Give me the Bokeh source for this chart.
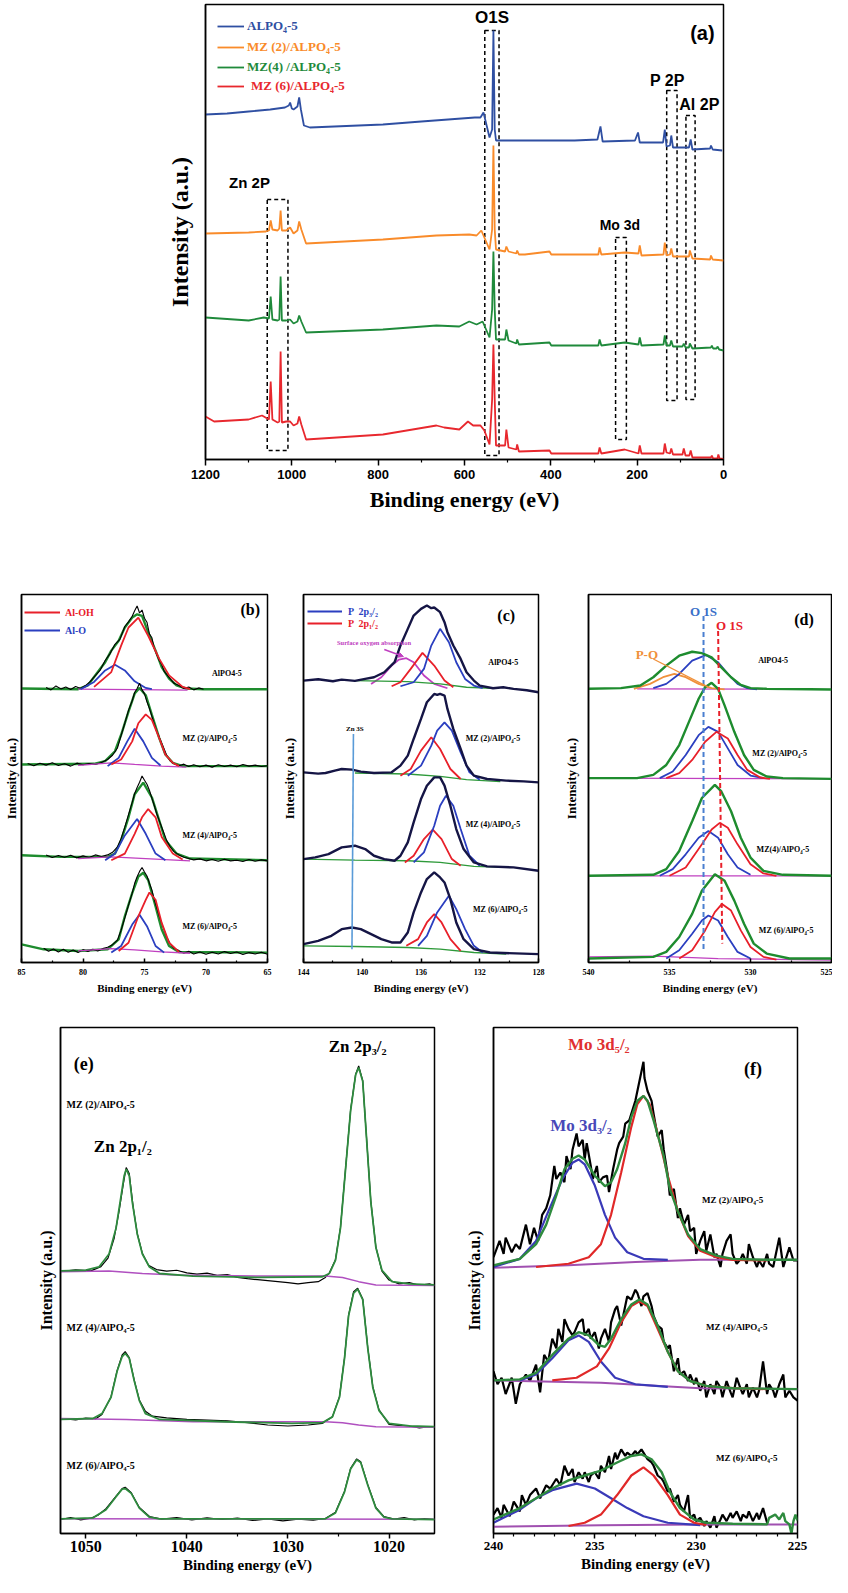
from bokeh.plotting import figure
from bokeh.layouts import column, row
from bokeh.models import Range1d, FixedTicker, Label, Legend, LegendItem, Arrow, NormalHead
from bokeh.core.properties import value
from bokeh.embed import file_html
from bokeh.resources import INLINE

SERIF = "Liberation Serif"
SANS = "Liberation Sans"
AX_SERIF = '"Liberation Serif"'
AX_SANS = '"Liberation Sans"'

# ---------------- (a) survey spectra: (binding energy eV, intensity a.u.) ----------------
a_alpo = [(1200, 345), (1150, 346), (1100, 348), (1050, 350), (1016, 352), (1007, 354), (1004, 357), (1000, 351),
          (996, 350), (987, 353), (983, 362), (979, 350), (972, 334), (958, 332), (789, 335), (700, 338), (576, 342),
          (563, 342), (556, 347), (542, 322), (536, 330), (533, 429), (530, 330), (527, 319), (345, 319), (292, 320),
          (285, 333), (280, 318), (205, 319), (198, 327), (194, 317), (140, 317), (136, 330), (132, 313), (124, 314),
          (121, 324), (117, 312), (80, 312), (76, 320), (72, 310), (31, 311), (29, 314), (25, 310), (3, 309)]
a_mz2 = [(1200, 226), (1100, 227), (1060, 228), (1053, 229), (1049, 239), (1045, 230), (1033, 229), (1029, 231),
         (1026, 249), (1023, 229), (1013, 229), (1004, 232), (996, 226), (987, 229), (983, 238), (978, 230),
         (967, 216), (789, 220), (665, 224), (589, 225), (572, 224), (561, 229), (542, 210), (536, 230), (533, 314),
         (530, 230), (527, 210), (506, 208), (503, 213), (498, 208), (480, 206), (478, 209), (474, 205), (460, 205),
         (403, 208), (399, 205), (290, 205), (287, 212), (283, 205), (229, 207), (197, 206), (194, 214), (190, 204),
         (139, 205), (136, 217), (132, 204), (124, 205), (121, 211), (117, 203), (80, 203), (78, 209), (72, 201),
         (31, 200), (29, 204), (25, 200), (0, 199)]
a_mz4 = [(1200, 142), (1100, 139), (1065, 142), (1053, 141), (1049, 163), (1045, 140), (1033, 139), (1029, 140),
         (1026, 183), (1023, 139), (1013, 139), (1004, 140), (996, 136), (987, 138), (983, 144), (978, 138),
         (967, 127), (789, 130), (665, 134), (612, 133), (589, 138), (572, 135), (558, 138), (542, 122), (536, 150),
         (533, 208), (530, 150), (527, 120), (506, 120), (503, 130), (498, 119), (480, 116), (478, 120), (474, 115),
         (403, 117), (399, 114), (290, 114), (287, 120), (283, 114), (229, 117), (197, 115), (194, 122), (190, 114),
         (139, 115), (136, 124), (132, 114), (124, 114), (121, 119), (117, 113), (95, 113), (92, 116), (88, 112),
         (80, 112), (78, 116), (72, 111), (29, 112), (27, 114), (24, 111), (16, 111), (14, 113), (10, 110), (0, 109)]
a_mz6 = [(1200, 43), (1180, 38), (1100, 40), (1069, 44), (1053, 40), (1049, 78), (1045, 40), (1033, 37), (1029, 38),
         (1026, 108), (1023, 37), (1013, 38), (1004, 38), (996, 34), (987, 36), (983, 43), (978, 35), (967, 20),
         (789, 25), (665, 34), (647, 32), (612, 30), (592, 38), (580, 34), (572, 34), (563, 34), (554, 29), (542, 15),
         (536, 60), (533, 115), (530, 60), (527, 14), (506, 14), (503, 30), (498, 12), (480, 10), (478, 15), (474, 8),
         (403, 9), (399, 6), (290, 6), (287, 12), (283, 6), (229, 10), (197, 6), (194, 14), (190, 6), (139, 6),
         (136, 16), (132, 7), (124, 6), (121, 11), (117, 5), (95, 5), (92, 11), (88, 4), (79, 4), (76, 9), (72, 2),
         (29, 2), (27, 4), (24, 1), (14, 1), (12, 5), (9, 1), (0, 0.5)]
a_ticks = [1200, 1000, 800, 600, 400, 200, 0]
a_minor = [1100, 900, 700, 500, 300, 100]
a_box_names = ["O1S", "Zn 2P", "Mo 3d", "P 2P", "Al 2P"]
a_box_high_ev = [553, 1057, 250, 131.6, 87]
a_box_low_ev = [520, 1009, 225, 107.6, 65.8]
a_box_top = [429, 260, 222, 369, 344]
a_box_bottom = [4, 9, 20, 59, 60]

# ---------------- (b) Al 2p ----------------
b_alpo_data = [(83.0, 83.3), (82.6, 82.6), (82.2, 83.8), (81.8, 82.9), (81.4, 83.5), (81.0, 82.7), (80.6, 83.6),
               (80.2, 83.0), (79.8, 83.9), (79.4, 85.2), (79.0, 86.9), (78.6, 88.6), (78.2, 91.5), (77.8, 93.6),
               (77.4, 96.4), (77.0, 97.9), (76.6, 101.8), (76.3, 103.2), (76.0, 104.9), (75.8, 106.6), (75.6, 108.0),
               (75.4, 105.9), (75.2, 106.8), (75.0, 104.3), (74.8, 103.1), (74.6, 99.6), (74.4, 98.4), (74.2, 95.1),
               (74.0, 93.2), (73.8, 91.5), (73.6, 90.3), (73.4, 88.2), (73.0, 86.4), (72.6, 84.6), (72.2, 83.9),
               (71.8, 83.0), (71.4, 83.5), (71.0, 82.6), (70.6, 83.2), (70.2, 82.8)]
b_alpo_fit = [(85.0, 83.0), (80.4, 82.8), (79.6, 84.0), (79.1, 86.5), (78.2, 91.0), (77.7, 94.5), (77.1, 97.5),
              (76.6, 101.5), (76.0, 104.5), (75.6, 105.5), (75.2, 105.0), (74.7, 100.0), (74.1, 94.5), (73.6, 89.5),
              (73.0, 86.0), (72.4, 84.0), (71.6, 83.0), (70.2, 82.8), (65.0, 82.8)]
b_alpo_aloh = [(79.1, 83.5), (77.7, 88.0), (76.9, 96.0), (76.3, 101.5), (75.5, 104.5), (74.7, 99.0), (73.8, 92.0),
               (73.0, 87.0), (71.9, 83.5), (71.3, 82.8)]
b_alpo_alo = [(80.2, 82.8), (79.1, 85.0), (78.2, 88.5), (77.4, 90.2), (76.6, 88.5), (75.8, 85.2), (74.9, 83.2),
              (74.4, 82.8)]
b_alpo_base = [(80.4, 82.8), (75.8, 82.7), (71.5, 82.5)]

b_mz2_data = [(84.5, 60.3), (84.0, 59.6), (83.5, 60.4), (83.0, 59.8), (82.5, 60.5), (82.0, 59.7), (81.5, 60.2),
              (81.0, 59.5), (80.5, 60.4), (80.0, 59.9), (79.5, 60.3), (79.0, 60.0), (78.5, 60.6), (78.0, 61.5),
              (77.6, 62.8), (77.2, 65.0), (76.9, 68.8), (76.6, 72.5), (76.3, 76.4), (76.0, 79.3), (75.8, 81.8),
              (75.6, 83.0), (75.4, 84.6), (75.2, 82.6), (75.0, 81.4), (74.8, 79.0), (74.6, 77.0), (74.4, 74.6),
              (74.2, 72.2), (74.0, 70.0), (73.8, 68.3), (73.5, 65.5), (73.2, 62.8), (72.9, 61.0), (72.6, 60.2),
              (72.2, 59.6), (71.8, 60.1), (71.4, 59.4), (71.0, 59.9), (70.5, 59.3), (70.0, 59.8), (69.5, 59.2),
              (69.0, 59.9), (68.5, 59.4), (68.0, 59.8), (67.5, 59.3), (67.0, 60.0), (66.5, 59.5), (66.0, 59.8),
              (65.5, 59.4), (65.0, 59.6)]
b_mz2_fit = [(85.0, 60.0), (79.1, 60.2), (78.2, 61.0), (77.4, 64.0), (76.9, 69.0), (76.3, 76.0), (75.8, 81.5),
             (75.4, 83.2), (74.9, 81.0), (74.4, 75.0), (73.8, 68.0), (73.3, 63.0), (72.7, 60.5), (71.9, 59.5),
             (65.0, 59.5)]
b_mz2_aloh = [(77.7, 60.0), (76.9, 61.5), (76.0, 67.0), (75.5, 72.5), (74.9, 75.2), (74.4, 73.5), (73.8, 68.0),
              (73.3, 63.0), (72.7, 60.5), (72.2, 59.5)]
b_mz2_alo = [(78.0, 59.5), (77.1, 62.0), (76.4, 67.0), (75.8, 70.8), (75.1, 67.0), (74.4, 62.0), (73.7, 59.7)]
b_mz2_base = [(80.4, 59.7), (77.7, 60.5), (75.8, 60.0), (73.6, 59.5), (71.6, 59.2)]

b_mz4_data = [(83.0, 32.6), (82.5, 31.8), (82.0, 32.4), (81.5, 31.9), (81.0, 32.5), (80.5, 31.7), (80.0, 32.3),
              (79.5, 31.8), (79.0, 32.6), (78.5, 32.1), (78.0, 32.6), (77.6, 33.4), (77.2, 35.0), (76.9, 37.6),
              (76.6, 41.0), (76.3, 44.8), (76.0, 48.5), (75.8, 51.2), (75.6, 53.0), (75.4, 54.6), (75.2, 56.5),
              (75.0, 55.2), (74.8, 54.0), (74.6, 52.2), (74.4, 49.8), (74.2, 47.5), (74.0, 45.0), (73.8, 43.0),
              (73.5, 40.0), (73.2, 37.0), (72.9, 35.0), (72.6, 33.6), (72.2, 32.6), (71.8, 31.9), (71.4, 31.5),
              (71.0, 31.1), (70.5, 31.4), (70.0, 30.8), (69.5, 31.2), (69.0, 30.7), (68.5, 31.3), (68.0, 30.8),
              (67.5, 31.0), (67.0, 30.6), (66.5, 31.2), (66.0, 30.7), (65.5, 31.1), (65.0, 30.8)]
b_mz4_fit = [(85.0, 32.5), (81.8, 32.0), (78.0, 32.0), (77.4, 33.0), (76.9, 37.0), (76.3, 44.0), (75.8, 51.0),
             (75.1, 54.5), (74.4, 50.0), (73.8, 43.0), (73.3, 37.0), (72.4, 33.0), (71.3, 31.5), (65.0, 31.0)]
b_mz4_aloh = [(77.7, 31.0), (76.6, 33.0), (75.8, 39.0), (75.2, 44.0), (74.7, 46.5), (74.1, 44.0), (73.6, 38.0),
              (72.7, 33.0), (71.9, 31.2)]
b_mz4_alo = [(78.2, 31.0), (77.4, 33.0), (76.6, 38.5), (75.6, 43.5), (74.9, 39.0), (74.1, 33.0), (73.3, 31.0)]
b_mz4_base = [(80.4, 31.5), (77.7, 32.0), (74.9, 31.5), (71.3, 30.8)]

b_mz6_data = [(83.2, 4.3), (82.8, 3.4), (82.4, 4.1), (82.0, 3.2), (81.6, 4.0), (81.2, 3.1), (80.8, 3.8), (80.4, 3.0),
              (80.0, 3.9), (79.6, 3.3), (79.2, 4.0), (78.8, 3.5), (78.4, 4.2), (78.0, 4.6), (77.6, 5.4), (77.2, 6.8),
              (76.9, 9.8), (76.6, 13.5), (76.3, 17.4), (76.0, 21.0), (75.8, 24.0), (75.6, 26.0), (75.4, 27.6),
              (75.2, 28.8), (75.0, 27.4), (74.8, 26.2), (74.6, 24.0), (74.4, 22.0), (74.2, 19.0), (74.0, 16.5),
              (73.8, 14.0), (73.5, 10.8), (73.2, 7.8), (72.9, 5.6), (72.6, 4.3), (72.2, 3.6), (71.8, 2.8), (71.4, 3.4),
              (71.0, 2.6), (70.5, 3.2), (70.0, 2.5), (69.5, 3.1), (69.0, 2.6), (68.5, 3.3), (68.0, 2.7), (67.5, 3.2),
              (67.0, 2.4), (66.5, 3.0), (66.0, 2.6), (65.5, 3.1), (65.0, 2.5)]
b_mz6_fit = [(85.0, 5.5), (83.2, 4.0), (80.4, 3.5), (78.0, 4.0), (77.1, 7.0), (76.6, 14.0), (76.0, 21.0),
             (75.5, 26.0), (75.1, 27.2), (74.7, 25.0), (74.1, 17.0), (73.6, 10.0), (73.0, 5.0), (72.2, 3.2),
             (65.0, 3.0)]
b_mz6_aloh = [(77.1, 3.5), (76.3, 6.0), (75.5, 14.0), (74.9, 19.0), (74.6, 21.2), (74.1, 19.0), (73.6, 12.0),
              (73.0, 6.0), (72.2, 3.2)]
b_mz6_alo = [(77.7, 3.0), (76.9, 5.0), (76.0, 11.5), (75.4, 14.5), (74.8, 11.0), (74.1, 5.0), (73.4, 3.0)]
b_mz6_base = [(80.4, 3.5), (77.7, 4.2), (75.8, 3.8), (73.6, 3.2), (71.3, 2.8)]
b_ticks = [85, 80, 75, 70, 65]
b_minor = [82.5, 77.5, 72.5, 67.5]

# ---------------- (c) P 2p ----------------
c_alpo_data = [(144.0, 84.5), (143.0, 84.9), (142.0, 84.3), (141.4, 84.8), (140.5, 84.4), (139.8, 85.0),
               (139.2, 85.5), (138.5, 87.0), (137.8, 90.0), (137.4, 95.0), (136.9, 100.0), (136.5, 104.0),
               (136.0, 106.0), (135.6, 107.0), (135.3, 106.2), (135.1, 106.4), (134.7, 105.0), (134.4, 102.0),
               (134.2, 99.0), (133.8, 95.0), (133.3, 91.0), (132.9, 87.0), (132.4, 84.5), (132.0, 83.0),
               (131.1, 82.2), (130.4, 82.5), (129.7, 82.0), (128.8, 81.6), (128.0, 81.0)]
c_alpo_p32 = [(137.4, 82.8), (136.5, 84.0), (135.8, 88.0), (135.3, 95.0), (134.7, 100.0), (134.1, 96.0),
              (133.6, 90.0), (133.0, 85.0), (132.4, 83.0), (131.8, 82.2)]
c_alpo_p12 = [(138.0, 82.8), (137.4, 84.0), (136.7, 88.0), (135.9, 92.8), (135.1, 89.0), (134.4, 84.5),
              (133.8, 82.5)]
c_alpo_surf = [(139.4, 83.5), (138.7, 85.5), (138.0, 89.0), (137.5, 90.8), (137.0, 91.2), (136.5, 90.0),
               (135.8, 86.0), (135.1, 83.5), (134.2, 82.2)]
c_alpo_base = [(140.5, 84.5), (136.9, 84.2), (134.7, 83.5), (132.9, 82.5), (131.1, 82.2)]

c_mz2_data = [(144.0, 57.0), (143.0, 56.6), (142.5, 56.8), (141.8, 57.6), (141.4, 58.0), (140.7, 57.8),
              (140.1, 57.2), (139.2, 56.8), (138.0, 57.0), (137.4, 59.0), (136.9, 62.0), (136.5, 67.0),
              (136.0, 73.0), (135.6, 78.0), (135.1, 80.5), (134.9, 80.2), (134.7, 80.5), (134.4, 80.0),
              (134.2, 76.0), (133.8, 70.0), (133.3, 64.0), (132.9, 59.0), (132.4, 56.0), (131.5, 55.0),
              (130.2, 54.5), (129.0, 54.3), (128.0, 54.0)]
c_mz2_p32 = [(136.9, 56.0), (136.0, 59.0), (135.3, 65.0), (134.9, 69.5), (134.4, 72.0), (133.9, 69.5),
             (133.3, 63.0), (132.7, 57.0), (132.0, 54.8)]
c_mz2_p12 = [(137.4, 56.0), (136.7, 58.0), (136.0, 63.5), (135.3, 67.5), (134.7, 64.0), (134.0, 58.0),
             (133.3, 55.0)]
c_mz2_base = [(140.5, 56.8), (136.9, 56.5), (134.7, 55.8), (132.9, 54.8), (130.6, 54.2)]

c_mz4_data = [(144.0, 31.0), (143.2, 31.5), (142.3, 32.5), (141.4, 34.5), (140.5, 35.0), (139.8, 34.0),
              (139.2, 32.0), (138.5, 31.0), (137.8, 30.5), (137.4, 32.0), (136.9, 36.0), (136.5, 42.0),
              (136.0, 49.0), (135.6, 53.0), (135.1, 55.5), (134.7, 55.5), (134.4, 53.0), (134.0, 47.0),
              (133.6, 40.0), (133.1, 34.0), (132.4, 30.0), (131.5, 28.8), (129.7, 28.5), (128.0, 27.5)]
c_mz4_p32 = [(136.5, 30.0), (135.8, 33.0), (135.1, 41.0), (134.7, 47.0), (134.3, 50.0), (133.8, 47.0),
             (133.3, 40.0), (132.7, 32.0), (132.0, 29.0)]
c_mz4_p12 = [(137.1, 30.0), (136.5, 32.0), (135.8, 37.0), (135.2, 39.8), (134.6, 37.0), (133.9, 31.0),
             (133.3, 29.0)]
c_mz4_base = [(144.0, 31.0), (140.5, 30.7), (136.9, 30.5), (134.7, 30.0), (132.4, 28.8), (130.2, 28.5)]

c_mz6_data = [(144.0, 5.5), (143.0, 6.5), (142.1, 8.0), (141.4, 10.0), (140.7, 10.5), (140.1, 10.0), (139.4, 8.5),
              (138.7, 7.0), (138.0, 6.0), (137.4, 6.0), (136.9, 9.0), (136.5, 15.0), (136.0, 21.0), (135.6, 25.0),
              (135.1, 27.0), (134.7, 25.5), (134.4, 24.0), (134.0, 19.0), (133.6, 12.0), (133.1, 7.0), (132.4, 4.0),
              (131.3, 3.0), (128.0, 2.5)]
c_mz6_p32 = [(136.2, 5.0), (135.6, 8.0), (134.9, 15.0), (134.1, 20.0), (133.6, 16.0), (133.0, 10.0), (132.4, 5.0),
             (131.8, 3.0)]
c_mz6_p12 = [(137.0, 5.0), (136.2, 7.0), (135.6, 12.0), (135.1, 14.5), (134.6, 12.0), (134.0, 7.0), (133.3, 3.5)]
c_mz6_base = [(144.0, 5.0), (140.5, 4.8), (136.9, 4.5), (134.7, 4.0), (132.4, 3.0), (130.2, 2.5)]
c_zn3s_line = [(140.6, 68.5), (140.7, 4.0)]
c_ticks = [144, 140, 136, 132, 128]
c_minor = [142, 138, 134, 130]

# ---------------- (d) O 1s ----------------
d_alpo_fit = [(540.0, 82.7), (538.0, 82.9), (536.8, 83.7), (536.0, 86.2), (535.2, 89.7), (534.4, 92.7),
              (533.6, 93.9), (533.0, 93.5), (532.4, 92.2), (531.8, 89.2), (531.2, 86.2), (530.6, 83.9),
              (530.0, 82.9), (529.0, 82.7), (525.0, 82.5)]
d_alpo_blue = [(536.0, 82.9), (535.2, 84.2), (534.4, 87.2), (533.6, 91.2), (532.76, 92.9), (532.0, 90.7),
               (531.4, 87.2), (530.8, 84.2), (530.2, 82.9), (529.6, 82.5)]
d_alpo_po = [(537.2, 82.7), (536.2, 84.2), (535.4, 86.2), (534.7, 87.2), (534.0, 86.2), (533.2, 84.2),
             (532.4, 82.9), (531.6, 82.5)]
d_alpo_base = [(537.0, 82.7), (528.0, 82.6)]

d_mz2_fit = [(540.0, 55.7), (537.0, 55.7), (536.0, 56.7), (535.2, 59.7), (534.4, 65.7), (533.8, 72.7),
             (533.2, 79.7), (532.8, 83.2), (532.4, 84.5), (532.0, 82.7), (531.6, 77.7), (531.0, 69.7),
             (530.4, 62.7), (529.8, 58.2), (529.0, 56.2), (528.0, 55.7), (525.0, 55.5)]
d_mz2_blue = [(535.6, 55.7), (534.8, 57.7), (534.0, 62.7), (533.2, 68.7), (532.6, 71.2), (532.0, 69.7),
              (531.4, 64.7), (530.8, 59.7), (530.0, 56.5), (529.2, 55.7)]
d_mz2_red = [(535.2, 55.7), (534.4, 57.2), (533.6, 61.2), (532.8, 66.7), (532.1, 69.7), (531.4, 67.7),
             (530.8, 62.7), (530.2, 58.2), (529.4, 55.9), (528.8, 55.5)]
d_mz2_base = [(540.0, 55.7), (525.0, 55.5)]

d_mz4_fit = [(540.0, 26.2), (536.0, 26.5), (535.2, 28.2), (534.4, 33.7), (533.6, 42.7), (533.0, 49.7),
             (532.2, 53.7), (531.8, 51.7), (531.2, 45.7), (530.6, 37.7), (530.0, 31.7), (529.2, 27.7),
             (528.0, 26.5), (525.0, 26.2)]
d_mz4_blue = [(535.6, 26.2), (534.8, 28.2), (534.0, 32.7), (533.2, 37.7), (532.6, 39.7), (532.0, 37.7),
              (531.4, 32.7), (530.8, 28.7), (530.0, 26.5)]
d_mz4_red = [(535.0, 26.2), (534.0, 28.7), (533.0, 35.7), (532.4, 40.2), (531.9, 42.2), (531.4, 40.7),
             (530.8, 35.7), (530.0, 29.7), (529.2, 26.9), (528.4, 26.2)]
d_mz4_base = [(540.0, 26.2), (525.0, 26.2)]

d_mz6_fit = [(540.0, 1.2), (536.0, 1.7), (535.2, 3.2), (534.4, 7.7), (533.6, 14.7), (533.0, 21.7), (532.2, 26.7),
             (531.6, 24.7), (531.0, 18.7), (530.4, 11.7), (529.8, 5.7), (529.0, 2.7), (527.6, 1.2), (525.0, 1.2)]
d_mz6_blue = [(535.2, 1.2), (534.4, 3.7), (533.6, 8.7), (533.0, 12.7), (532.6, 14.2), (532.0, 12.7), (531.4, 7.7),
              (530.8, 3.2), (530.0, 1.2)]
d_mz6_red = [(534.4, 1.2), (533.6, 3.7), (532.8, 9.7), (532.2, 15.2), (531.76, 17.7), (531.2, 15.7), (530.6, 9.7),
             (530.0, 4.7), (529.2, 1.7), (528.4, 0.9)]
d_mz6_base = [(540.0, 1.7), (536.0, 1.9), (532.0, 1.2), (525.0, 0.7)]
d_o1s_blue_line = [(532.9, 104.7), (532.9, 3.7)]
d_o1s_red_line = [(532.0, 100.2), (531.74, 5.7)]
d_po_leader = [(536.0, 91.7), (532.6, 83.2)]
d_ticks = [540, 535, 530, 525]
d_minor = [537.5, 532.5, 527.5]

# ---------------- (e) Zn 2p ----------------
e_mz2_data = [(1052.5, 80.4), (1051.0, 80.9), (1049.5, 80.6), (1048.5, 81.9), (1047.8, 84.5), (1047.2, 90.5),
              (1046.7, 99.0), (1046.3, 107.0), (1046.0, 112.3), (1045.7, 110.5), (1045.3, 100.0), (1044.9, 92.0),
              (1044.4, 86.0), (1043.8, 82.3), (1043.0, 81.0), (1042.0, 80.5), (1041.0, 80.8), (1040.0, 80.0),
              (1039.0, 79.6), (1038.0, 79.9), (1037.0, 79.2), (1036.0, 79.5), (1035.0, 78.6), (1034.0, 78.2),
              (1033.0, 77.9), (1032.0, 77.6), (1031.0, 77.3), (1030.0, 77.0), (1029.0, 76.6), (1028.0, 77.0),
              (1027.0, 77.3), (1026.3, 78.6), (1025.9, 80.0), (1025.3, 84.0), (1024.8, 94.0), (1024.3, 112.0),
              (1023.8, 130.0), (1023.3, 141.0), (1023.0, 143.5), (1022.6, 139.0), (1022.3, 125.0), (1021.8, 102.0),
              (1021.3, 88.0), (1020.7, 80.5), (1020.0, 77.8), (1019.0, 76.6), (1018.0, 77.0), (1017.0, 76.2),
              (1016.0, 76.6), (1015.5, 76.1)]
e_mz2_fit = [(1052.5, 80.6), (1050.0, 80.8), (1048.7, 81.8), (1047.7, 85.8), (1047.0, 93.8), (1046.5, 103.8),
             (1046.2, 109.8), (1046.0, 111.8), (1045.7, 109.8), (1045.4, 101.8), (1044.9, 91.8), (1044.4, 85.8),
             (1043.7, 81.8), (1042.7, 79.8), (1039.4, 79.0), (1032.9, 78.6), (1026.6, 78.8), (1025.9, 79.8),
             (1025.3, 83.8), (1024.8, 93.8), (1024.3, 111.8), (1023.8, 129.8), (1023.3, 140.8), (1023.0, 143.0),
             (1022.6, 138.8), (1022.3, 124.8), (1021.8, 101.8), (1021.3, 87.8), (1020.7, 80.8), (1019.7, 77.3),
             (1018.0, 76.6), (1015.5, 76.3)]
e_mz2_base = [(1052.5, 80.3), (1047.7, 80.6), (1044.4, 79.8), (1041.1, 79.3), (1032.9, 79.0), (1026.3, 79.0),
              (1024.6, 78.6), (1023.0, 77.3), (1021.3, 76.3), (1015.5, 76.1)]
e_mz4_data = [(1052.5, 35.3), (1051.0, 34.9), (1050.0, 35.4), (1049.0, 35.2), (1048.4, 36.5), (1047.5, 42.0),
              (1046.9, 50.0), (1046.4, 54.8), (1046.1, 55.8), (1045.7, 54.0), (1045.2, 47.0), (1044.7, 41.0),
              (1044.1, 37.5), (1043.4, 36.0), (1042.0, 35.5), (1040.0, 35.0), (1038.0, 34.8), (1036.0, 34.6),
              (1034.0, 34.0), (1032.0, 33.3), (1030.0, 33.0), (1028.0, 33.3), (1026.6, 33.8), (1025.6, 35.8),
              (1024.9, 42.0), (1024.4, 54.0), (1024.0, 67.0), (1023.5, 74.2), (1023.1, 75.3), (1022.6, 72.0),
              (1022.1, 57.0), (1021.6, 45.0), (1021.0, 38.0), (1020.0, 33.5), (1019.0, 33.2), (1018.0, 33.0),
              (1017.0, 32.4), (1016.0, 32.8), (1015.5, 32.5)]
e_mz4_fit = [(1052.5, 35.0), (1049.3, 35.3), (1048.4, 36.8), (1047.5, 41.8), (1046.9, 49.8), (1046.4, 54.3),
             (1046.1, 55.3), (1045.7, 53.8), (1045.2, 46.8), (1044.7, 40.8), (1044.1, 36.8), (1042.7, 35.0),
             (1036.2, 34.3), (1029.6, 33.8), (1026.6, 34.0), (1025.6, 35.8), (1024.9, 41.8), (1024.4, 53.8),
             (1024.0, 66.8), (1023.5, 73.8), (1023.1, 75.0), (1022.6, 71.8), (1022.1, 56.8), (1021.6, 44.8),
             (1021.0, 37.8), (1020.0, 33.8), (1018.0, 33.0), (1015.5, 32.8)]
e_mz4_base = [(1052.5, 35.3), (1046.0, 35.0), (1039.4, 34.3), (1026.3, 34.3), (1024.6, 34.0), (1023.0, 33.3),
              (1021.3, 32.8), (1015.5, 32.6)]
e_mz6_data = [(1052.5, 4.3), (1051.5, 4.9), (1050.5, 4.2), (1049.5, 4.7), (1048.8, 5.6), (1048.0, 7.6),
              (1047.0, 11.5), (1046.4, 13.8), (1046.1, 14.2), (1045.5, 12.5), (1044.7, 8.0), (1043.7, 5.2),
              (1042.5, 4.4), (1041.0, 4.9), (1039.5, 4.2), (1038.0, 4.8), (1036.5, 4.3), (1035.0, 4.7), (1033.5, 4.0),
              (1032.0, 4.5), (1030.5, 3.9), (1029.0, 4.4), (1027.5, 4.1), (1026.3, 4.6), (1025.3, 6.5),
              (1024.4, 13.0), (1023.8, 20.0), (1023.2, 22.9), (1022.8, 22.0), (1022.1, 15.0), (1021.3, 8.0),
              (1020.5, 5.2), (1019.5, 4.4), (1018.5, 4.9), (1017.5, 4.2), (1016.5, 4.6), (1015.5, 4.3)]
e_mz6_fit = [(1052.5, 4.5), (1049.3, 4.8), (1048.0, 7.3), (1047.0, 11.3), (1046.4, 13.6), (1046.1, 13.8),
             (1045.5, 12.3), (1044.7, 7.8), (1043.7, 5.0), (1042.7, 4.5), (1026.3, 4.5), (1025.3, 6.3),
             (1024.4, 12.8), (1023.8, 19.8), (1023.2, 22.6), (1022.8, 21.8), (1022.1, 14.8), (1021.3, 7.8),
             (1020.5, 5.0), (1019.7, 4.5), (1015.5, 4.3)]
e_mz6_base = [(1052.5, 4.5), (1015.5, 4.4)]
e_ticks = [1050, 1040, 1030, 1020]
e_minor = [1045, 1035, 1025, 1015]

# ---------------- (f) Mo 3d ----------------
f_mz2_data = [(240.0, 84.8), (239.7, 89.8), (239.5, 85.8), (239.4, 90.8), (239.1, 86.3), (238.9, 88.8),
              (238.7, 87.3), (238.4, 94.8), (238.2, 88.8), (238.0, 93.8), (237.8, 89.8), (237.6, 97.8),
              (237.4, 99.8), (237.2, 103.8), (237.0, 112.8), (236.9, 108.8), (236.7, 110.8), (236.5, 107.8),
              (236.4, 115.8), (236.2, 111.8), (236.1, 117.8), (235.9, 122.8), (235.8, 118.8), (235.6, 120.8),
              (235.5, 114.8), (235.4, 119.8), (235.2, 112.8), (235.1, 108.8), (234.9, 112.8), (234.8, 107.8),
              (234.6, 109.3), (234.4, 109.8), (234.3, 104.8), (234.1, 111.8), (233.9, 117.8), (233.8, 119.8),
              (233.6, 121.8), (233.5, 125.8), (233.3, 126.8), (233.1, 130.8), (233.0, 132.8), (232.8, 138.8),
              (232.7, 141.8), (232.6, 144.8), (232.55, 139.8), (232.4, 135.8), (232.2, 132.8), (232.1, 128.8),
              (231.9, 121.8), (231.7, 123.8), (231.6, 117.8), (231.4, 109.8), (231.3, 103.8), (231.1, 105.8),
              (230.9, 96.8), (230.8, 99.8), (230.6, 94.8), (230.4, 97.8), (230.3, 92.8), (230.1, 93.8),
              (230.0, 85.8), (229.8, 89.8), (229.6, 92.8), (229.5, 86.8), (229.3, 91.8), (229.1, 84.8),
              (229.0, 85.8), (228.8, 81.8), (228.7, 85.8), (228.5, 89.8), (228.3, 91.8), (228.2, 85.8),
              (228.0, 82.8), (227.8, 84.3), (227.7, 85.8), (227.5, 82.8), (227.4, 88.8), (227.2, 84.8),
              (227.0, 81.8), (226.9, 83.8), (226.7, 81.8), (226.5, 85.8), (226.4, 82.8), (226.2, 81.8),
              (226.1, 84.8), (225.9, 90.8), (225.7, 81.8), (225.6, 83.8), (225.4, 87.8), (225.2, 83.8),
              (225.0, 83.8)]
f_mz2_fit = [(240.0, 82.3), (238.7, 84.3), (237.9, 88.8), (237.4, 94.8), (236.9, 103.8), (236.5, 111.8),
             (236.1, 115.0), (235.8, 116.0), (235.5, 114.8), (235.0, 109.8), (234.5, 106.6), (234.2, 107.8),
             (233.9, 111.8), (233.5, 119.8), (233.2, 127.8), (232.9, 132.8), (232.6, 134.3), (232.4, 132.8),
             (232.1, 126.8), (231.6, 115.8), (231.3, 105.8), (230.9, 98.8), (230.4, 91.8), (229.8, 87.3),
             (229.0, 85.3), (228.2, 84.3), (226.5, 84.0), (225.0, 84.0)]
f_mz2_d52 = [(237.9, 81.8), (236.3, 82.8), (235.3, 84.8), (234.7, 88.8), (234.2, 97.8), (233.7, 110.8),
             (233.2, 124.8), (232.9, 131.8), (232.6, 134.3), (232.3, 131.8), (231.9, 122.8), (231.4, 109.8),
             (230.9, 98.8), (230.4, 91.3), (229.8, 86.8), (229.0, 84.8), (228.2, 84.0), (226.5, 83.8)]
f_mz2_d32 = [(240.0, 81.8), (238.7, 84.3), (237.9, 89.8), (237.3, 98.8), (236.6, 108.8), (236.1, 113.8),
             (235.8, 114.8), (235.5, 113.3), (235.0, 106.8), (234.5, 97.8), (234.0, 90.8), (233.4, 86.3),
             (232.6, 84.3), (231.4, 84.0)]
f_mz2_base = [(240.0, 81.6), (236.3, 82.3), (233.0, 83.3), (229.8, 84.0), (225.0, 84.0)]

f_mz4_data = [(240.0, 49.8), (239.8, 45.8), (239.6, 47.8), (239.4, 42.8), (239.1, 47.8), (238.9, 39.8),
              (238.7, 45.8), (238.4, 48.8), (238.2, 46.8), (237.9, 51.8), (237.7, 43.3), (237.5, 54.8),
              (237.3, 52.8), (237.1, 59.8), (236.9, 56.8), (236.8, 62.8), (236.6, 58.8), (236.5, 65.8),
              (236.3, 62.8), (236.1, 60.8), (236.0, 61.8), (235.8, 64.8), (235.6, 65.8), (235.5, 60.8),
              (235.3, 62.8), (235.2, 59.8), (235.0, 61.8), (234.8, 56.8), (234.7, 59.8), (234.5, 62.8),
              (234.3, 58.8), (234.2, 64.8), (234.0, 68.8), (233.9, 69.8), (233.7, 63.8), (233.5, 69.8),
              (233.4, 72.8), (233.2, 71.8), (233.0, 74.8), (232.9, 73.8), (232.7, 69.8), (232.6, 72.8),
              (232.4, 73.8), (232.2, 69.8), (232.1, 66.8), (231.9, 63.8), (231.7, 62.8), (231.6, 58.8),
              (231.4, 56.8), (231.3, 57.8), (231.1, 49.8), (230.9, 53.8), (230.8, 48.8), (230.6, 49.8),
              (230.4, 46.8), (230.3, 48.8), (230.1, 45.8), (230.0, 47.8), (229.8, 43.8), (229.6, 46.8),
              (229.5, 41.8), (229.3, 45.8), (229.1, 42.8), (229.0, 46.8), (228.8, 44.8), (228.7, 41.8),
              (228.5, 46.8), (228.3, 43.3), (228.2, 41.8), (228.0, 47.8), (227.8, 44.3), (227.7, 42.8),
              (227.5, 45.8), (227.4, 41.8), (227.2, 44.8), (227.0, 41.8), (226.9, 43.8), (226.7, 52.8),
              (226.5, 42.8), (226.4, 45.8), (226.2, 43.8), (226.1, 41.8), (225.9, 45.8), (225.7, 48.8),
              (225.6, 41.8), (225.4, 43.8), (225.2, 41.8), (225.0, 40.8)]
f_mz4_fit = [(240.0, 47.0), (238.7, 47.3), (237.9, 49.3), (237.1, 54.8), (236.3, 59.8), (235.8, 61.8),
             (235.3, 60.8), (234.8, 57.8), (234.5, 57.3), (234.2, 59.8), (233.7, 65.8), (233.2, 70.3),
             (232.8, 71.8), (232.4, 70.3), (231.9, 63.8), (231.4, 55.8), (230.9, 49.8), (230.3, 46.8),
             (229.5, 45.3), (228.2, 44.6), (225.0, 44.3)]
f_mz4_d52 = [(237.1, 47.0), (235.9, 47.8), (234.9, 51.3), (234.3, 56.8), (233.7, 64.8), (233.2, 69.8),
             (232.8, 71.3), (232.4, 69.8), (231.9, 62.8), (231.4, 55.8), (230.9, 49.8), (230.3, 46.8),
             (229.5, 45.3), (228.2, 44.6), (226.5, 44.3)]
f_mz4_d32 = [(238.7, 47.0), (237.9, 48.8), (237.1, 53.8), (236.3, 59.3), (235.8, 60.8), (235.3, 58.8),
             (234.7, 52.8), (234.0, 47.8), (233.0, 45.8), (231.4, 45.0)]
f_mz4_base = [(240.0, 47.0), (234.7, 46.3), (229.8, 44.6), (225.0, 44.3)]

f_mz6_data = [(240.0, 5.8), (239.8, 7.8), (239.6, 4.8), (239.5, 8.8), (239.2, 5.3), (239.0, 9.8), (238.7, 6.8),
              (238.6, 11.8), (238.4, 8.8), (238.2, 11.8), (237.9, 13.8), (237.7, 10.8), (237.4, 14.8),
              (237.2, 13.8), (236.9, 16.8), (236.7, 14.8), (236.5, 20.8), (236.3, 17.8), (236.1, 19.8),
              (236.0, 15.8), (235.8, 18.8), (235.6, 16.8), (235.5, 18.8), (235.3, 15.8), (235.2, 17.8),
              (235.0, 18.8), (234.8, 16.8), (234.7, 20.8), (234.5, 18.8), (234.3, 23.8), (234.2, 19.8),
              (234.0, 24.8), (233.9, 22.8), (233.7, 25.8), (233.5, 23.8), (233.4, 24.8), (233.2, 23.8),
              (233.0, 25.3), (232.9, 24.3), (232.7, 25.8), (232.6, 24.8), (232.4, 22.8), (232.2, 21.8),
              (232.1, 20.8), (231.9, 17.8), (231.7, 16.8), (231.6, 15.8), (231.4, 12.8), (231.3, 13.8),
              (231.1, 9.8), (230.9, 11.8), (230.8, 8.8), (230.6, 6.8), (230.4, 11.8), (230.3, 4.8), (230.1, 5.8),
              (230.0, 3.8), (229.8, 4.8), (229.6, 2.3), (229.5, 3.8), (229.3, 1.8), (229.1, 5.3), (229.0, 1.8),
              (228.8, 4.3), (228.7, 5.8), (228.5, 3.8), (228.3, 6.3), (228.2, 4.8), (228.0, 6.8), (227.8, 3.8),
              (227.7, 5.8), (227.5, 4.8), (227.4, 6.8), (227.2, 3.8), (227.0, 6.3), (226.9, 4.3), (226.7, 7.8),
              (226.5, 3.3)]
f_mz6_fit = [(240.0, 4.3), (238.7, 7.8), (237.9, 10.8), (237.1, 13.8), (236.3, 16.3), (235.5, 17.8),
             (234.7, 19.3), (233.9, 21.8), (233.2, 23.8), (232.7, 24.3), (232.2, 22.8), (231.7, 18.8),
             (231.3, 12.8), (230.8, 7.8), (230.1, 4.3), (229.5, 3.3), (228.2, 3.0), (226.5, 2.8), (226.4, 4.8),
             (226.1, 5.8), (225.9, 4.3), (225.7, 6.3), (225.6, 3.8), (225.4, 2.8), (225.3, 0.0), (225.2, 3.8),
             (225.1, 5.8), (225.0, 4.0)]
f_mz6_d52 = [(236.3, 2.3), (235.5, 3.3), (234.7, 5.8), (233.9, 11.8), (233.2, 17.8), (232.6, 20.3),
             (232.1, 17.8), (231.4, 11.8), (230.8, 5.8), (230.1, 3.3), (229.5, 2.6)]
f_mz6_d32 = [(240.0, 3.3), (238.7, 7.3), (237.9, 10.8), (237.1, 13.3), (235.9, 15.3), (235.0, 13.8),
             (234.2, 10.8), (233.4, 7.8), (232.6, 5.3), (231.4, 3.3), (229.8, 2.6)]
f_mz6_base = [(240.0, 2.1), (234.7, 2.5), (229.8, 2.8), (225.0, 2.8)]
f_ticks = [240, 235, 230, 225]
f_minor = [239, 238, 237, 236, 234, 233, 232, 231, 229, 228, 227, 226]

# colours
A_BLUE, A_ORANGE, A_GREEN, A_RED = "#2F4FA2", "#F98B2A", "#1F8A3B", "#E8282E"
FIT_GREEN, COMP_RED, COMP_BLUE, MAGENTA = "#1E8C2E", "#E8202A", "#2B3FC0", "#C040C0"
NAVY = "#151545"
SUB4 = "\u2084"
MZ2 = "MZ (2)/AlPO" + SUB4 + "-5"
MZ4 = "MZ (4)/AlPO" + SUB4 + "-5"
MZ6 = "MZ (6)/AlPO" + SUB4 + "-5"


def xs(pts):
    return [q[0] for q in pts]


def ys(pts):
    return [q[1] for q in pts]


def panel(width, height, xr, yr, left, right, top, bottom):
    p = figure(width=width, height=height, x_range=Range1d(*xr), y_range=Range1d(*yr),
               output_backend="svg", toolbar_location=None,
               min_border_left=left, min_border_right=right, min_border_top=top, min_border_bottom=bottom)
    p.xgrid.visible = False
    p.ygrid.visible = False
    p.outline_line_color = "black"
    p.outline_line_width = 1.5
    p.outline_line_alpha = 1.0
    return p


def axes(p, major, minor, tick_font, tick_size, xlabel, xlab_size, ylabel, ylab_size, ystand,
         tin=0, tout=5, lab_stand=3, xlab_stand=3):
    ax = p.xaxis[0]
    ax.ticker = FixedTicker(ticks=major, minor_ticks=minor)
    ax.major_label_text_font = tick_font
    ax.major_label_text_font_size = tick_size
    ax.major_label_text_font_style = "bold"
    ax.major_label_text_color = "black"
    ax.major_tick_in = tin
    ax.major_tick_out = tout
    ax.minor_tick_in = int(tin * 0.6)
    ax.minor_tick_out = int(tout * 0.6)
    ax.axis_line_width = 1.5
    ax.major_tick_line_width = 1.5
    ax.minor_tick_line_width = 1.2
    ax.major_label_standoff = lab_stand
    ax.axis_label = xlabel
    ax.axis_label_text_font = AX_SERIF
    ax.axis_label_text_font_style = "bold"
    ax.axis_label_text_font_size = xlab_size
    ax.axis_label_text_color = "black"
    ax.axis_label_standoff = xlab_stand
    ay = p.yaxis[0]
    ay.ticker = FixedTicker(ticks=[], minor_ticks=[])
    ay.major_tick_out = 0
    ay.major_tick_in = 0
    ay.minor_tick_out = 0
    ay.minor_tick_in = 0
    ay.major_label_standoff = 0
    ay.axis_line_width = 1.5
    ay.axis_label = ylabel
    ay.axis_label_text_font = AX_SERIF
    ay.axis_label_text_font_style = "bold"
    ay.axis_label_text_font_size = ylab_size
    ay.axis_label_text_color = "black"
    ay.axis_label_standoff = ystand


def curve(p, pts, color, width):
    return p.line(xs(pts), ys(pts), line_color=color, line_width=width)


def text(p, x, y, t, size, color="black", font=SERIF, align="center", style="bold"):
    p.add_layout(Label(x=x, y=y, text=t, text_font=font, text_font_size=size, text_font_style=style,
                       text_color=color, text_align=align, text_baseline="middle"))


def solo_legend(p, r, label, color, vx, vy, size, gw, stand, gh=12):
    lg = Legend(items=[LegendItem(label=value(label), renderers=[r])], location=(vx, vy),
                label_text_color=color, label_text_font=SERIF, label_text_font_style="bold",
                label_text_font_size=size, glyph_width=gw, glyph_height=gh, label_height=gh,
                label_standoff=stand, padding=0, margin=0, spacing=0,
                background_fill_alpha=0, border_line_color=None)
    p.add_layout(lg)


# ================= (a) =================
pa = panel(832, 527, (1200, 0), (0, 455), 205, 109, 4, 68)
axes(pa, a_ticks, a_minor, AX_SANS, "13px", "Binding energy (eV)", "22px", "Intensity (a.u.)", "24px", 13,
     tin=0, tout=6, lab_stand=4, xlab_stand=5)
pa.quad(left=a_box_high_ev, right=a_box_low_ev, top=a_box_top, bottom=a_box_bottom, fill_color=None,
        line_color="black", line_dash="4 3", line_width=1.5)
ra1 = curve(pa, a_alpo, A_BLUE, 1.8)
ra2 = curve(pa, a_mz2, A_ORANGE, 1.8)
ra3 = curve(pa, a_mz4, A_GREEN, 1.8)
ra4 = curve(pa, a_mz6, A_RED, 1.8)
solo_legend(pa, ra1, "ALPO" + SUB4 + "-5", A_BLUE, 12, 425, "13px", 27, 3, gh=14)
solo_legend(pa, ra2, "MZ (2)/ALPO" + SUB4 + "-5", A_ORANGE, 12, 404, "13px", 27, 3, gh=14)
solo_legend(pa, ra3, "MZ(4) /ALPO" + SUB4 + "-5", A_GREEN, 12, 384, "13px", 27, 3, gh=14)
solo_legend(pa, ra4, "MZ (6)/ALPO" + SUB4 + "-5", A_RED, 12, 365, "13px", 27, 7, gh=14)
text(pa, 536, 442, "O1S", "17px", font=SANS)
text(pa, 49, 427, "(a)", "20px", font=SANS)
text(pa, 130, 379, "P 2P", "16px", font=SANS)
text(pa, 56, 355, "Al 2P", "16px", font=SANS)
text(pa, 1098, 277, "Zn 2P", "15px", font=SANS)
text(pa, 240, 235, "Mo 3d", "14px", font=SANS)

# ================= (b) =================
pb = panel(278, 480, (85, 65), (0, 111.5), 20, 11, 63, 45)
axes(pb, b_ticks, b_minor, AX_SERIF, "8px", "Binding energy (eV)", "11px", "Intensity (a.u.)", "13px", 3,
     tin=4, tout=0, lab_stand=6, xlab_stand=4)
b_stacks = [(b_alpo_fit, b_alpo_data, b_alpo_base, b_alpo_alo, b_alpo_aloh),
            (b_mz2_fit, b_mz2_data, b_mz2_base, b_mz2_alo, b_mz2_aloh),
            (b_mz4_fit, b_mz4_data, b_mz4_base, b_mz4_alo, b_mz4_aloh),
            (b_mz6_fit, b_mz6_data, b_mz6_base, b_mz6_alo, b_mz6_aloh)]
b_red = None
b_blue = None
for fit, data, base, alo, aloh in b_stacks:
    curve(pb, fit, FIT_GREEN, 2.4)
    curve(pb, data, "black", 1.1)
    curve(pb, base, MAGENTA, 1.3)
    rb = curve(pb, alo, COMP_BLUE, 1.8)
    rr = curve(pb, aloh, COMP_RED, 1.8)
    if b_red is None:
        b_red, b_blue = rr, rb
solo_legend(pb, b_red, "Al-OH", COMP_RED, 3, 344, "10px", 36, 5)
solo_legend(pb, b_blue, "Al-O", COMP_BLUE, 3, 326, "10px", 36, 5)
text(pb, 66.4, 107.0, "(b)", "16px")
text(pb, 68.3, 87.5, "AlPO4-5", "8px")
text(pb, 69.7, 68.0, MZ2, "8px")
text(pb, 69.7, 38.5, MZ4, "8px")
text(pb, 69.7, 11.0, MZ6, "8px")

# ================= (c) =================
pc = panel(282, 480, (144, 128), (0, 110.3), 22, 22, 67, 45)
axes(pc, c_ticks, c_minor, AX_SERIF, "8px", "Binding energy (eV)", "11px", "Intensity (a.u.)", "13px", 7,
     tin=4, tout=0, lab_stand=6, xlab_stand=4)
c_stacks = [(c_alpo_base, c_alpo_p12, c_alpo_p32, c_alpo_data),
            (c_mz2_base, c_mz2_p12, c_mz2_p32, c_mz2_data),
            (c_mz4_base, c_mz4_p12, c_mz4_p32, c_mz4_data),
            (c_mz6_base, c_mz6_p12, c_mz6_p32, c_mz6_data)]
curve(pc, c_alpo_surf, MAGENTA, 1.8)
c_red = None
c_blue = None
for base, p12, p32, data in c_stacks:
    curve(pc, base, "#2E9A3A", 1.3)
    rr = curve(pc, p12, COMP_RED, 1.8)
    rb = curve(pc, p32, COMP_BLUE, 1.8)
    curve(pc, data, NAVY, 2.4)
    if c_red is None:
        c_red, c_blue = rr, rb
curve(pc, c_zn3s_line, "#5A9BD8", 1.6)
solo_legend(pc, c_blue, "P  2p\u2083/\u2082", COMP_BLUE, 4, 345, "10px", 35, 6)
solo_legend(pc, c_red, "P  2p\u2081/\u2082", COMP_RED, 4, 333, "10px", 35, 6)
text(pc, 130.2, 104.0, "(c)", "16px")
text(pc, 139.2, 96.0, "Surface oxygen absorption", "6.5px", color=MAGENTA)
pc.add_layout(Arrow(end=NormalHead(size=5, fill_color=MAGENTA, line_color=MAGENTA),
                    x_start=138.5, y_start=93.8, x_end=137.2, y_end=91.7, line_color=MAGENTA, line_width=1.5))
text(pc, 130.4, 90.0, "AlPO4-5", "8px")
text(pc, 131.1, 67.0, MZ2, "8px")
text(pc, 131.1, 41.5, MZ4, "8px")
text(pc, 130.6, 16.0, MZ6, "8px")
text(pc, 140.5, 70.0, "Zn 3S", "7px")

# ================= (d) =================
pd = panel(272, 480, (540, 525), (0, 111.2), 25, 1, 63, 45)
axes(pd, d_ticks, d_minor, AX_SERIF, "8px", "Binding energy (eV)", "11px", "Intensity (a.u.)", "13px", 10,
     tin=4, tout=0, lab_stand=6, xlab_stand=4)
curve(pd, d_alpo_base, MAGENTA, 1.3)
curve(pd, d_alpo_po, "#F0903A", 1.8)
curve(pd, d_alpo_blue, COMP_BLUE, 1.8)
curve(pd, d_alpo_fit, FIT_GREEN, 2.4)
for fit, blue, red, base in [(d_mz2_fit, d_mz2_blue, d_mz2_red, d_mz2_base),
                             (d_mz4_fit, d_mz4_blue, d_mz4_red, d_mz4_base),
                             (d_mz6_fit, d_mz6_blue, d_mz6_red, d_mz6_base)]:
    curve(pd, base, MAGENTA, 1.3)
    curve(pd, blue, COMP_BLUE, 1.8)
    curve(pd, red, COMP_RED, 1.8)
    curve(pd, fit, FIT_GREEN, 2.4)
pd.line(xs(d_o1s_blue_line), ys(d_o1s_blue_line), line_color="#4A7FD0", line_width=2, line_dash="5 3")
pd.line(xs(d_o1s_red_line), ys(d_o1s_red_line), line_color=COMP_RED, line_width=2, line_dash="5 3")
pd.line(xs(d_po_leader), ys(d_po_leader), line_color="#F0903A", line_width=1.3)
text(pd, 526.7, 103.7, "(d)", "16px")
text(pd, 532.9, 106.2, "O 1S", "13px", color="#3A6FC8")
text(pd, 531.3, 101.7, "O 1S", "13px", color=COMP_RED)
text(pd, 536.4, 93.2, "P-O", "13px", color="#F0903A")
text(pd, 528.6, 91.2, "AlPO4-5", "8px")
text(pd, 528.2, 63.2, MZ2, "8px")
text(pd, 528.0, 34.2, "MZ(4)/AlPO" + SUB4 + "-5", "8px")
text(pd, 527.8, 9.7, MZ6, "8px")

# ================= (e) =================
pe = panel(462, 570, (1052.5, 1015.5), (0, 155.3), 60, 28, 20, 44)
axes(pe, e_ticks, e_minor, AX_SERIF, "16px", "Binding energy (eV)", "15px", "Intensity (a.u.)", "16px", 6,
     tin=0, tout=5, lab_stand=2, xlab_stand=2)
for data, fit, base in [(e_mz2_data, e_mz2_fit, e_mz2_base), (e_mz4_data, e_mz4_fit, e_mz4_base),
                        (e_mz6_data, e_mz6_fit, e_mz6_base)]:
    curve(pe, data, "black", 1.2)
    curve(pe, base, "#B050C0", 1.5)
    curve(pe, fit, "#2E8B3E", 1.8)
text(pe, 1050.2, 144.0, "(e)", "18px")
text(pe, 1023.1, 149.5, "Zn 2p\u2083/\u2082", "17px")
text(pe, 1049.2, 118.8, "Zn 2p\u2081/\u2082", "17px", align="left")
text(pe, 1051.9, 131.8, MZ2, "10px", align="left")
text(pe, 1051.9, 63.3, MZ4, "10px", align="left")
text(pe, 1051.9, 20.8, MZ6, "10px", align="left")

# ================= (f) =================
pf = panel(370, 570, (240, 225), (0, 155.3), 29, 35, 20, 44)
axes(pf, f_ticks, f_minor, AX_SERIF, "13px", "Binding energy (eV)", "15px", "Intensity (a.u.)", "16px", 11,
     tin=0, tout=5, lab_stand=3, xlab_stand=3)
for data, base, d32, d52, fit in [(f_mz2_data, f_mz2_base, f_mz2_d32, f_mz2_d52, f_mz2_fit),
                                  (f_mz4_data, f_mz4_base, f_mz4_d32, f_mz4_d52, f_mz4_fit),
                                  (f_mz6_data, f_mz6_base, f_mz6_d32, f_mz6_d52, f_mz6_fit)]:
    curve(pf, data, "black", 2.2)
    curve(pf, base, "#A050B0", 2.0)
    curve(pf, d32, "#3A3AB8", 2.2)
    curve(pf, d52, "#E02828", 2.2)
    curve(pf, fit, "#2E8B3E", 2.4)
text(pf, 227.2, 142.7, "(f)", "18px")
text(pf, 234.8, 150.0, "Mo 3d\u2085/\u2082", "17px", color="#E03030")
text(pf, 237.2, 125.3, "Mo 3d\u2083/\u2082", "17px", color="#4848B8", align="left")
text(pf, 228.2, 102.3, MZ2, "9px")
text(pf, 228.0, 63.3, MZ4, "9px")
text(pf, 227.5, 23.3, MZ6, "9px")

layout = column(pa, row(pb, pc, pd), row(pe, pf))
open("out.html", "w").write(file_html(layout, INLINE))
